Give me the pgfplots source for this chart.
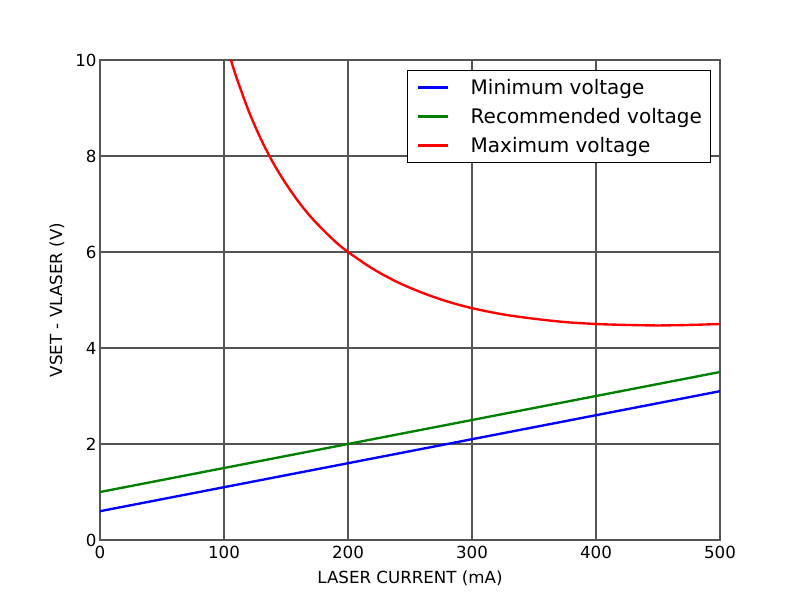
\documentclass[border=0pt]{standalone}
\usepackage{fontspec}
\setmainfont{DejaVu Sans}
\usepackage{pgfplots}
\pgfplotsset{compat=1.18}
\definecolor{gridgray}{HTML}{555555}
\definecolor{mplgreen}{rgb}{0,0.5,0}

\begin{document}
\begin{tikzpicture}
\useasboundingbox (0,0) rectangle (576pt,432pt);
\begin{axis}[
    at={(72pt,43.2pt)}, anchor=south west,
    scale only axis,
    width=446.4pt, height=345.6pt,
    xmin=0, xmax=500, ymin=0, ymax=10,
    xtick={0,100,...,500}, ytick={0,2,...,10},
    grid=major,
    major grid style={gridgray, line width=1pt},
    axis line style={gridgray, line width=1pt},
    tick style={draw=none},
    tick label style={font=\fontsize{12}{14}\selectfont},
    /pgf/number format/assume math mode=true,
    xticklabel style={yshift=-1pt},
    yticklabel style={xshift=1pt},
    xlabel={LASER CURRENT (mA)},
    ylabel={VSET - VLASER (V)},
    label style={font=\fontsize{12}{14}\selectfont},
    xlabel style={yshift=-2pt},
    ylabel style={yshift=1pt},
    legend style={at={(0.985,0.979)}, anchor=north east, draw=black,
        line width=0.6pt, font=\fontsize{14.4}{17}\selectfont,
        row sep=4.5pt, inner xsep=4pt, inner ysep=4pt, cells={anchor=west}},
    legend image code/.code={
        \path (-3pt,0pt);
        \draw[line width=1.7pt] (0pt,0pt) -- (21.6pt,0pt);
        \path (35pt,0pt);},
    legend cell align=left,
]
\addplot[blue, line width=1.7pt] coordinates {(0,0.6) (500,3.1)};
\addlegendentry{Minimum voltage}
\addplot[mplgreen, line width=1.7pt] coordinates {(0,1.0) (500,3.5)};
\addlegendentry{Recommended voltage}
\addplot[red, line width=1.7pt, smooth] coordinates {
(100,10.5) (105,10.05) (110,9.64) (120,8.93) (130,8.34) (140,7.84)
(150,7.42) (160,7.05) (170,6.73) (180,6.46) (190,6.21) (200,6.00)
(220,5.65) (240,5.37) (260,5.15) (280,4.97) (300,4.83) (325,4.70)
(350,4.61) (375,4.54) (400,4.50) (425,4.48) (450,4.47) (475,4.48)
(500,4.50)};
\addlegendentry{Maximum voltage}
\end{axis}
\end{tikzpicture}
\end{document}
